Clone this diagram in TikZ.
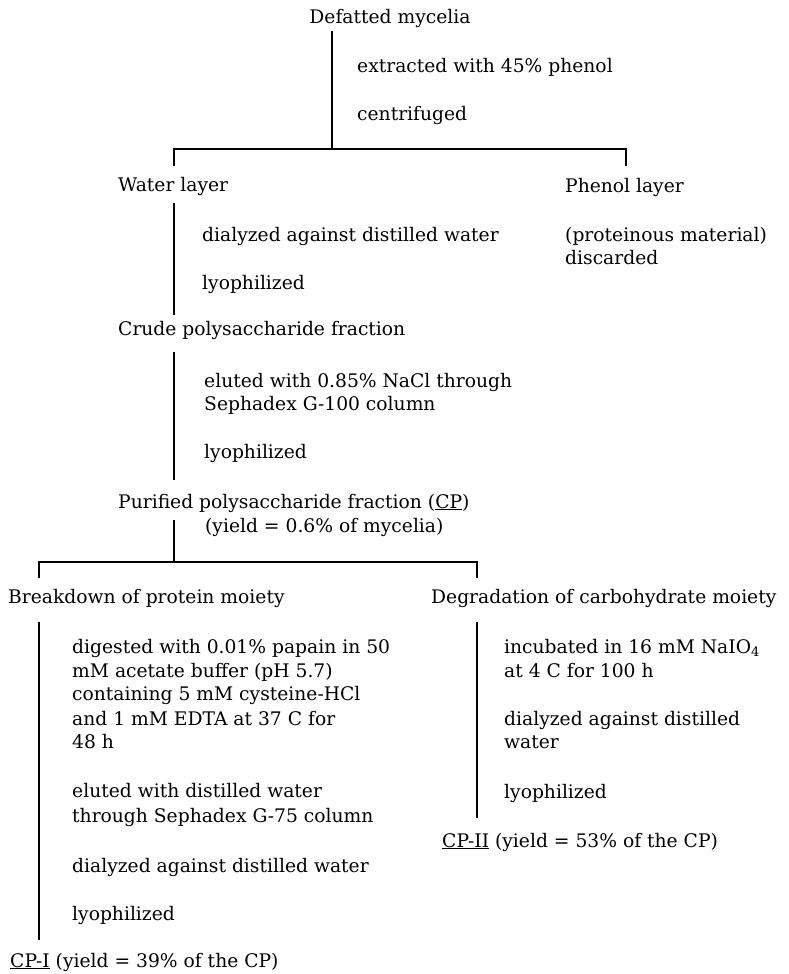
\documentclass[tikz,border=0pt]{standalone}
\usepackage{fontspec}
\setmainfont{DejaVu Serif}
\begin{document}
\begin{tikzpicture}[x=1pt,y=-1pt,
  txt/.style={anchor=base west,inner sep=0pt,font=\fontsize{18.7}{23}\selectfont},
  link/.style={line width=1.4pt}]
\useasboundingbox (0,0) rectangle (789,974);
% texts
\node[txt,anchor=base] (top) at (390,24) {Defatted mycelia};
\node[txt] (ext) at (357,72) {extracted with 45\% phenol};
\node[txt] (cen) at (357,120) {centrifuged};
\node[txt] (water) at (118,191) {Water layer};
\node[txt] (phenol) at (565,192) {Phenol layer};
\node[txt] (dialA) at (202,241) {dialyzed against distilled water};
\node[txt] (lyoA) at (202,289) {lyophilized};
\node[txt] (prot) at (565,241) {(proteinous material)};
\node[txt] (disc) at (565,264) {discarded};
\node[txt] (crude) at (118,335) {Crude polysaccharide fraction};
\node[txt] (eluA) at (204,387) {eluted with 0.85\% NaCl through};
\node[txt] (sephA) at (204,410) {Sephadex G-100 column};
\node[txt] (lyoB) at (204,458) {lyophilized};
\node[txt] (pur) at (118,508) {Purified polysaccharide fraction (\underline{CP})};
\node[txt] (yld) at (205,532) {(yield = 0.6\% of mycelia)};
\node[txt] (brk) at (8,603) {Breakdown of protein moiety};
\node[txt] (deg) at (431,603) {Degradation of carbohydrate moiety};
\node[txt] (digA) at (72,653) {digested with 0.01\% papain in 50};
\node[txt] (digB) at (72,677) {mM acetate buffer (pH 5.7)};
\node[txt] (digC) at (72,700) {containing 5 mM cysteine-HCl};
\node[txt] (digD) at (72,725) {and 1 mM EDTA at 37 C for};
\node[txt] (digE) at (72,748) {48 h};
\node[txt] (eluB) at (72,797) {eluted with distilled water};
\node[txt] (sephB) at (72,822) {through Sephadex G-75 column};
\node[txt] (dialB) at (72,872) {dialyzed against distilled water};
\node[txt] (lyoC) at (72,920) {lyophilized};
\node[txt] (cpi) at (10,967) {\underline{CP-I} (yield = 39\% of the CP)};
\node[txt] (incA) at (504,653) {incubated in 16 mM NaIO\textsubscript{4}};
\node[txt] (incB) at (504,677) {at 4 C for 100 h};
\node[txt] (dialC) at (504,725) {dialyzed against distilled};
\node[txt] (dialD) at (504,748) {water};
\node[txt] (lyoD) at (504,798) {lyophilized};
\node[txt] (cpii) at (442,847) {\underline{CP-II} (yield = 53\% of the CP)};
% junction coordinates
\coordinate (t0) at (332,31);
\coordinate (t1) at (332,149);
\coordinate (tl) at (174,149);
\coordinate (tr) at (626,149);
\coordinate (tlb) at (174,166);
\coordinate (trb) at (626,166);
\coordinate (w0) at (174,203);
\coordinate (w1) at (174,315);
\coordinate (c0) at (174,352);
\coordinate (c1) at (174,480);
\coordinate (p0) at (174,520);
\coordinate (p1) at (174,562);
\coordinate (bl) at (39,562);
\coordinate (br) at (477,562);
\coordinate (blb) at (39,578);
\coordinate (brb) at (477,578);
\coordinate (l0) at (39,622);
\coordinate (l1) at (39,940);
\coordinate (r0) at (477,622);
\coordinate (r1) at (477,818);
% connectors
\draw[link] (t0) -- (t1);
\draw[link] (tlb) -- (tl) -- (tr) -- (trb);
\draw[link] (w0) -- (w1);
\draw[link] (c0) -- (c1);
\draw[link] (p0) -- (p1);
\draw[link] (blb) -- (bl) -- (br) -- (brb);
\draw[link] (l0) -- (l1);
\draw[link] (r0) -- (r1);
\end{tikzpicture}
\end{document}
